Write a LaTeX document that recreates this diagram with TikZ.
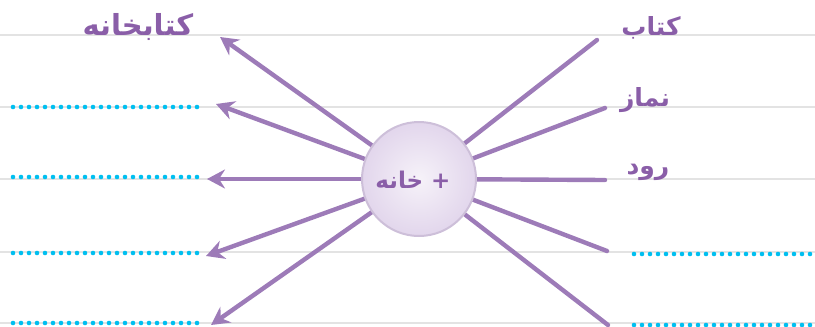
\documentclass[tikz,border=0pt]{standalone}
\usepackage{fontspec}
\newfontfamily\arabicfont[Script=Arabic]{DejaVu Sans Bold}
\TeXXeTstate=1
\usetikzlibrary{arrows.meta}
\definecolor{gline}{HTML}{E3E3E3}
\definecolor{dotc}{HTML}{00BFF0}
\definecolor{arr}{HTML}{9D7BB8}
\definecolor{txt}{HTML}{8A5EA8}
\definecolor{ballin}{HTML}{F6F2F9}
\definecolor{ballout}{HTML}{E2D6EC}
\definecolor{ballrim}{HTML}{CDBFD9}
\tikzset{
  guide/.style={gline, line width=1.6pt},
  dots/.style={dotc, line width=4.6pt, line cap=round, dash pattern=on 0pt off 8pt},
  arrowline/.style={arr, line width=4.4pt, -{Stealth[length=18pt,width=19pt,inset=6pt]}},
  plainline/.style={arr, line width=4.4pt, line cap=round},
  word/.style={txt, font=\arabicfont\fontsize{25}{30}\selectfont, inner sep=0pt},
}
\begin{document}
\begin{tikzpicture}[x=1pt,y=-1pt]
\useasboundingbox (0,0) rectangle (815,327);
% guide lines
\foreach \yy in {35,107,179,252,323} \draw[guide] (0,\yy) -- (815,\yy);
% dotted answer lines
\foreach \yy in {107,177,253,323} \draw[dots] (13,\yy) -- (197,\yy);
\foreach \yy in {254,325} \draw[dots] (634,\yy) -- (815,\yy);
% centre
\coordinate (o) at (419,179);
% left arrow tips
\coordinate (l1) at (220,37);
\coordinate (l2) at (216,104);
\coordinate (l3) at (207,179);
\coordinate (l4) at (206,256);
\coordinate (l5) at (211,325);
% right ends
\coordinate (r1) at (597,40);
\coordinate (r2) at (605,108);
\coordinate (r3) at (605,180);
\coordinate (r4) at (607,251);
\coordinate (r5) at (608,325);
\foreach \p in {l1,l2,l3,l4,l5} \draw[arrowline] (o) -- (\p);
\foreach \p in {r1,r2,r3,r4,r5} \draw[plainline] (o) -- (\p);
% ball
\node[circle, minimum size=114pt, inner sep=0pt, draw=ballrim, line width=2pt,
      inner color=ballin, outer color=ballout] (c) at (o) {};
\node[word, font=\arabicfont\fontsize{23}{27}\selectfont] (ct) at (413,180) {\beginR خانه\endR\ +};
% labels
\node[word] (k) at (651,28) {\beginR کتاب\endR};
\node[word] (n) at (645,100) {\beginR نماز\endR};
\node[word] (rd) at (648,172) {\beginR رود\endR};
\node[word, font=\arabicfont\fontsize{29}{34}\selectfont] (kk) at (138,27) {\beginR کتابخانه\endR};
\end{tikzpicture}
\end{document}
